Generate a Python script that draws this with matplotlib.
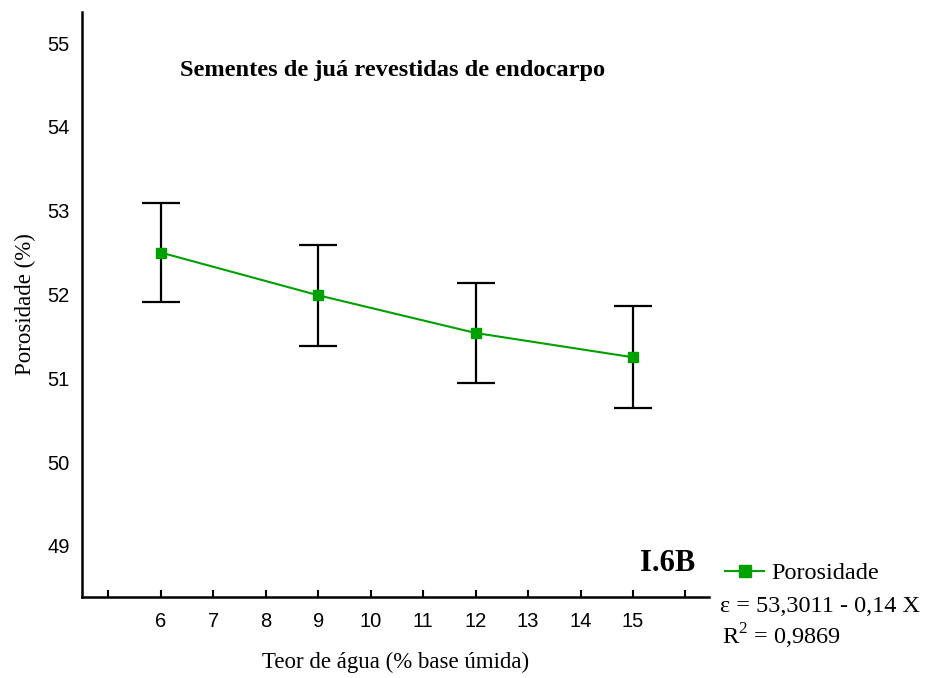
import matplotlib
matplotlib.use("Agg")
import matplotlib.pyplot as plt
from matplotlib.lines import Line2D

# Teor de água (% b.u.) e porosidade média com desvio
teor_agua = [6, 9, 12, 15]
porosidade = [52.50, 51.99, 51.54, 51.25]
desvio = [0.59, 0.60, 0.60, 0.61]

x_ticks = list(range(5, 17))
x_labels = ["" if t in (5, 16) else str(t) for t in x_ticks]
y_ticks = [49, 50, 51, 52, 53, 54, 55]

serif = "Liberation Serif"
sans = "Liberation Sans"
verde = "#00a000"

fig = plt.figure(figsize=(9.29, 6.78), dpi=100)
ax = fig.add_axes([0.0883, 0.1195, 0.6750, 0.8628])

ax.errorbar(teor_agua, porosidade, yerr=desvio, fmt="none", ecolor="black",
            elinewidth=1.6, capsize=14, capthick=1.6, zorder=2)
ax.plot(teor_agua, porosidade, color=verde, lw=1.5, marker="s", ms=7.5,
        mfc=verde, mec=verde, zorder=3)

ax.set_xlim(4.5, 16.45)
ax.set_ylim(48.39, 55.37)
ax.set_xticks(x_ticks)
ax.set_xticklabels(x_labels, fontfamily=sans, fontsize=14.5)
ax.set_yticks(y_ticks)
ax.set_yticklabels([str(v) for v in y_ticks], fontfamily=sans, fontsize=14.5)
ax.tick_params(axis="x", direction="in", length=5, width=1.5, pad=11)
ax.tick_params(axis="y", length=0, pad=9)

for s in ("top", "right"):
    ax.spines[s].set_visible(False)
for s in ("left", "bottom"):
    ax.spines[s].set_linewidth(1.8)

ax.set_xlabel("Teor de água (% base úmida)", fontfamily=serif, fontsize=16.5)
ax.set_ylabel("Porosidade (%)", fontfamily=serif, fontsize=16.5)
ax.xaxis.set_label_coords(0.5, -(662 - 597) / 585, transform=ax.transAxes)
ax.yaxis.set_label_coords(-(82 - 25) / 627, 0.5, transform=ax.transAxes)
ax.xaxis.label.set_va("center")
ax.yaxis.label.set_va("center")

ax.text(0.156, 0.90, "Sementes de juá revestidas de endocarpo", transform=ax.transAxes,
        fontfamily=serif, fontsize=17.6, fontweight="bold", ha="left", va="center")
ax.text(0.978, 0.058, "I.6B", transform=ax.transAxes, fontfamily=serif,
        fontsize=22, fontweight="bold", ha="right", va="center")

# Legenda e equação de ajuste à direita do eixo
handle = Line2D([], [], color=verde, lw=1.5, marker="s", ms=8, mfc=verde, mec=verde)
fig.legend([handle], ["Porosidade"], loc="center left",
           bbox_to_anchor=(0.7805, 1 - 573 / 678), frameon=False,
           prop={"family": serif, "size": 17.5}, handlelength=1.6,
           handletextpad=0.3, borderaxespad=0, borderpad=0)
fig.text(0.775, 1 - 607 / 678, "ε = 53,3011 - 0,14 X", fontfamily=serif,
         fontsize=17.5, ha="left", va="center")
fig.text(0.777, 1 - 636 / 678, r"R$^{\mathregular{2}}$ = 0,9869", fontfamily=serif,
         fontsize=17.5, ha="left", va="center")

fig.savefig("out.png", dpi=100)
